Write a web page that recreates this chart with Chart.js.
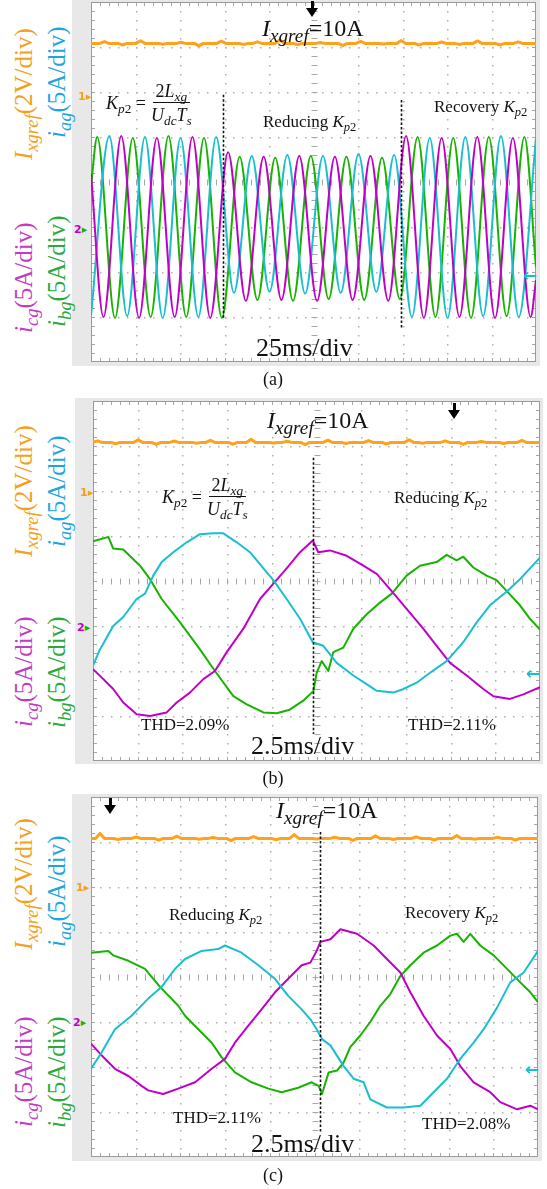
<!DOCTYPE html>
<html>
<head>
<meta charset="utf-8">
<script src="https://cdn.jsdelivr.net/npm/chart.js@4.4.1/dist/chart.umd.min.js"></script>
<style>
html, body { margin: 0; padding: 0; background: #fff; }
#page { position: relative; width: 547px; height: 1189px; overflow: hidden; background: #fff; }
.frame { position: absolute; background: #e8e8e8; }
canvas { position: absolute; }
.t { position: absolute; font-family: "Liberation Serif", "Times New Roman", serif; line-height: 1; white-space: nowrap; color: #111; }
.t i { font-style: italic; }
.t sub { font-size: 0.74em; vertical-align: -0.32em; line-height: 0; }
.ix { font-size: 24px; }
.ix sub { font-size: 0.8em; }
.ms { font-size: 26px; }
.note { font-size: 17px; }
.cap { font-size: 18px; width: 40px; text-align: center; }
.side { font-size: 25px; transform-origin: 0 0; transform: rotate(-90deg); }
.formula { display: flex; align-items: center; font-size: 18px; }
.frac { display: inline-flex; flex-direction: column; align-items: center; margin-left: 5px; }
.frac .num { border-bottom: 1.2px solid #111; padding: 0 3px 2px; }
.frac .den { padding-top: 3px; }
.mk { position: absolute; font-family: "DejaVu Sans", sans-serif; font-size: 11px; line-height: 1; font-weight: bold; }
.arr { font-size: 17px; }
.trig { position: absolute; width: 12px; }
.trig .stem { width: 3px; height: 7px; background: #000; margin: 0 auto; }
.trig .head { width: 0; height: 0; border-left: 6px solid transparent; border-right: 6px solid transparent; border-top: 9px solid #000; }
</style>
</head>
<body>
<div id="page">
  <!-- (a) -->
  <div class="frame" style="left:72px;top:0;width:468px;height:366px"></div>
  <canvas id="scopeA" width="445" height="360" style="left:91px;top:2px"></canvas>
  <div class="trig" style="left:306px;top:1px"><div class="stem"></div><div class="head"></div></div>
  <div class="t ix" style="left:262px;top:16px"><i>I</i><sub><i>xgref</i></sub>=10A</div>
  <div class="t formula" style="left:106px;top:82px"><span><i>K</i><sub><i>p</i>2</sub>&nbsp;=</span><span class="frac"><span class="num">2<i>L</i><sub><i>xg</i></sub></span><span class="den"><i>U</i><sub><i>dc</i></sub><i>T</i><sub><i>s</i></sub></span></span></div>
  <div class="t note" style="left:263px;top:113px">Reducing <i>K</i><sub><i>p</i>2</sub></div>
  <div class="t note" style="left:434px;top:98px">Recovery <i>K</i><sub><i>p</i>2</sub></div>
  <div class="t ms" style="left:256px;top:335px">25ms/div</div>
  <div class="t cap" style="left:253px;top:370px">(a)</div>
  <div class="t side" style="left:11px;top:160px;color:#f5a01a"><i>I</i><sub><i>xgref</i></sub>(2V/div)</div>
  <div class="t side" style="left:44px;top:138px;color:#1ea5de"><i>i</i><sub><i>ag</i></sub>(5A/div)</div>
  <div class="t side" style="left:11px;top:333px;color:#c23cc2"><i>i</i><sub><i>cg</i></sub>(5A/div)</div>
  <div class="t side" style="left:44px;top:327px;color:#2aaa3c"><i>i</i><sub><i>bg</i></sub>(5A/div)</div>
  <div class="mk" style="left:78px;top:91px;color:#f5a01a">1▸</div>
  <div class="mk" style="left:74px;top:224px"><span style="color:#c000c8">2</span><span style="color:#17b300">▸</span></div>
  <div class="mk arr" style="left:523px;top:267px;color:#19bfcf">←</div>

  <!-- (b) -->
  <div class="frame" style="left:75px;top:398px;width:468px;height:366px"></div>
  <canvas id="scopeB" width="447" height="360" style="left:93px;top:401px"></canvas>
  <div class="trig" style="left:448px;top:403px"><div class="stem"></div><div class="head"></div></div>
  <div class="t ix" style="left:267px;top:408px"><i>I</i><sub><i>xgref</i></sub>=10A</div>
  <div class="t formula" style="left:162px;top:476px"><span><i>K</i><sub><i>p</i>2</sub>&nbsp;=</span><span class="frac"><span class="num">2<i>L</i><sub><i>xg</i></sub></span><span class="den"><i>U</i><sub><i>dc</i></sub><i>T</i><sub><i>s</i></sub></span></span></div>
  <div class="t note" style="left:394px;top:489px">Reducing <i>K</i><sub><i>p</i>2</sub></div>
  <div class="t note" style="left:141px;top:716px">THD=2.09%</div>
  <div class="t note" style="left:408px;top:716px">THD=2.11%</div>
  <div class="t ms" style="left:251px;top:733px">2.5ms/div</div>
  <div class="t cap" style="left:253px;top:769px">(b)</div>
  <div class="t side" style="left:11px;top:557px;color:#f5a01a"><i>I</i><sub><i>xgref</i></sub>(2V/div)</div>
  <div class="t side" style="left:44px;top:547px;color:#1ea5de"><i>i</i><sub><i>ag</i></sub>(5A/div)</div>
  <div class="t side" style="left:11px;top:727px;color:#c23cc2"><i>i</i><sub><i>cg</i></sub>(5A/div)</div>
  <div class="t side" style="left:44px;top:728px;color:#2aaa3c"><i>i</i><sub><i>bg</i></sub>(5A/div)</div>
  <div class="mk" style="left:80px;top:487px;color:#f5a01a">1▸</div>
  <div class="mk" style="left:77px;top:622px"><span style="color:#c000c8">2</span><span style="color:#17b300">▸</span></div>
  <div class="mk arr" style="left:526px;top:665px;color:#19bfcf">←</div>

  <!-- (c) -->
  <div class="frame" style="left:72px;top:794px;width:470px;height:367px"></div>
  <canvas id="scopeC" width="447" height="360" style="left:91px;top:797px"></canvas>
  <div class="trig" style="left:104px;top:798px"><div class="stem"></div><div class="head"></div></div>
  <div class="t ix" style="left:276px;top:798px"><i>I</i><sub><i>xgref</i></sub>=10A</div>
  <div class="t note" style="left:169px;top:906px">Reducing <i>K</i><sub><i>p</i>2</sub></div>
  <div class="t note" style="left:405px;top:904px">Recovery <i>K</i><sub><i>p</i>2</sub></div>
  <div class="t note" style="left:173px;top:1109px">THD=2.11%</div>
  <div class="t note" style="left:422px;top:1115px">THD=2.08%</div>
  <div class="t ms" style="left:251px;top:1131px">2.5ms/div</div>
  <div class="t cap" style="left:253px;top:1166px">(c)</div>
  <div class="t side" style="left:11px;top:950px;color:#f5a01a"><i>I</i><sub><i>xgref</i></sub>(2V/div)</div>
  <div class="t side" style="left:44px;top:947px;color:#1ea5de"><i>i</i><sub><i>ag</i></sub>(5A/div)</div>
  <div class="t side" style="left:11px;top:1127px;color:#c23cc2"><i>i</i><sub><i>cg</i></sub>(5A/div)</div>
  <div class="t side" style="left:44px;top:1128px;color:#2aaa3c"><i>i</i><sub><i>bg</i></sub>(5A/div)</div>
  <div class="mk" style="left:76px;top:882px;color:#f5a01a">1▸</div>
  <div class="mk" style="left:73px;top:1017px"><span style="color:#c000c8">2</span><span style="color:#17b300">▸</span></div>
  <div class="mk arr" style="left:525px;top:1061px;color:#19bfcf">←</div>
</div>

<script>
// (a) 25 ms/div, 0..250 ms: peaks and troughs of each phase current [ms, A]
const aGreen = [[0, 4.6], [3.5, 10.0], [13.5, -10.1], [23.5, 9.9], [33.5, -10.0], [43.5, 10.1], [53.5, -10.0], [63.5, 9.9], [73.5, -10.1],
  [83.5, 7.8], [93.5, -8.1], [103.5, 7.7], [113.5, -8.2], [123.5, 7.9], [133.5, -8.0], [143.5, 7.8], [153.5, -8.1], [163.5, 7.7], [173.5, -8.0],
  [183.5, 10.0], [193.5, -10.0], [203.5, 9.9], [213.5, -10.1], [223.5, 10.0], [233.5, -9.9], [243.5, 10.0], [250, -4.5]];
const aCyan = [[0, -9.9], [10.3, 10.1], [20.3, -9.9], [30.3, 10.0], [40.3, -10.1], [50.3, 9.9], [60.3, -10.0], [70.3, 10.0],
  [80.3, -7.3], [90.3, 7.9], [100.3, -7.2], [110.3, 8.0], [120.3, -7.4], [130.3, 7.9], [140.3, -7.3], [150.3, 8.1], [160.3, -7.2], [170.3, 8.0],
  [180.3, -10.0], [190.3, 9.9], [200.3, -10.1], [210.3, 10.0], [220.3, -9.9], [230.3, 10.1], [240.3, -10.0], [250, 9.9]];
const aMagenta = [[0, 5.9], [7, -10.0], [17, 10.1], [27, -10.1], [37, 9.9], [47, -10.0], [57, 10.0], [67, -10.1],
  [77, 8.3], [87, -8.2], [97, 7.8], [107, -8.1], [117, 7.9], [127, -8.2], [137, 7.8], [147, -8.1], [157, 7.9], [167, -8.2],
  [177, 10.1], [187, -10.1], [197, 9.9], [207, -10.0], [217, 10.0], [227, -10.1], [237, 9.9], [247, -10.0], [250, -5.9]];

// (b) 2.5 ms/div, 0..25 ms
const bGreen = [[0, 9.4], [0.86, 9.9], [1.13, 8.6], [1.69, 8.5], [2.63, 6.7], [3.19, 5.2], [3.84, 3.0], [4.87, 0.4], [5.98, -2.6], [6.82, -5.0],
  [7.85, -7.8], [8.6, -8.7], [9.53, -9.6], [10.27, -9.7], [11.0, -9.3], [11.76, -8.3], [12.23, -7.4], [12.32, -7.3], [12.51, -5.2], [12.79, -3.9],
  [13.16, -5.0], [13.44, -2.9], [14.0, -2.4], [14.56, -0.3], [15.31, 1.3], [16.05, 2.6], [16.71, 3.6], [17.54, 5.6], [18.29, 6.7], [19.22, 7.1],
  [19.78, 7.9], [20.34, 7.3], [20.71, 7.7], [21.27, 6.5], [22.01, 5.6], [22.57, 5.1], [23.13, 3.9], [23.88, 2.3], [24.44, 0.8], [25, -0.4]];
const bCyan = [[0, -4.4], [0.39, -2.6], [1.13, 0], [1.69, 1.0], [2.44, 3.0], [2.91, 3.6], [3.37, 5.6], [3.84, 7.1], [4.49, 8.2], [5.24, 9.3],
  [5.98, 10.2], [6.73, 10.3], [7.29, 10.3], [8.04, 9.3], [8.78, 8.2], [9.53, 6.4], [10.09, 5.1], [10.83, 3.0], [11.58, 0.8], [12.29, -1.8],
  [12.88, -2.2], [13.63, -4.1], [14.56, -5.5], [15.49, -6.7], [15.87, -7.2], [16.8, -7.4], [17.36, -7.0], [18.1, -6.3], [18.85, -5.2],
  [19.78, -3.9], [20.71, -1.8], [21.46, 0.4], [22.2, 2.3], [23.13, 3.8], [23.88, 5.2], [24.44, 6.4], [25, 7.6]];
const bMagenta = [[0, -4.8], [0.58, -5.9], [1.13, -7.0], [1.69, -8.5], [2.44, -9.8], [3.19, -10.0], [4.12, -9.6], [4.68, -8.5], [5.42, -7.4],
  [6.17, -5.9], [6.82, -5.0], [7.48, -2.9], [8.41, -0.3], [9.34, 3.0], [10.09, 4.7], [10.83, 6.4], [11.58, 8.2], [12.29, 9.5], [12.6, 8.2],
  [13.25, 8.4], [14.19, 7.8], [15.12, 6.7], [15.87, 5.8], [16.61, 4.1], [17.54, 1.9], [18.47, -0.3], [19.22, -2.2], [19.97, -4.1],
  [20.9, -5.5], [21.83, -7.0], [22.39, -7.8], [23.32, -8.1], [24.07, -7.6], [25, -6.8]];

// (c) 2.5 ms/div, 0..25 ms
const cGreen = [[0, 7.7], [0.97, 7.9], [1.25, 7.4], [2.09, 6.8], [3.02, 5.9], [3.86, 3.9], [4.88, 1.8], [5.26, 0.7], [6.0, -0.8], [6.75, -2.3],
  [7.3, -3.9], [8.05, -5.6], [8.98, -6.7], [9.92, -7.4], [10.66, -7.8], [11.59, -7.3], [12.34, -6.7], [12.73, -7.1], [12.92, -8.0], [13.29, -5.6],
  [13.76, -5.4], [14.13, -4.5], [14.5, -2.8], [15.06, -1.5], [15.62, 0], [16.18, 1.8], [16.74, 3.1], [17.3, 5.1], [17.86, 6.3], [18.6, 7.7],
  [19.35, 8.5], [20.1, 9.6], [20.47, 9.8], [20.84, 8.9], [21.21, 9.8], [21.77, 8.5], [22.52, 7.4], [23.27, 5.9], [24.01, 4.4], [24.57, 3.3], [25, 2.2]];
const cCyan = [[0, -5.2], [0.59, -3.4], [1.34, -0.8], [2.27, 0.7], [3.2, 2.6], [3.95, 3.9], [4.7, 5.9], [5.26, 7.0], [6.19, 7.9], [7.12, 8.1],
  [7.49, 8.5], [8.42, 7.7], [9.36, 6.3], [10.29, 4.8], [11.03, 2.9], [11.78, 1.4], [12.27, 0.3], [12.62, -0.8], [12.92, -1.9], [13.39, -2.6],
  [14.13, -4.9], [14.69, -6.3], [15.25, -6.7], [15.62, -8.6], [16.55, -9.5], [17.48, -9.5], [18.42, -9.3], [19.16, -7.8], [19.91, -6.3],
  [20.65, -4.1], [21.4, -2.3], [21.96, -0.8], [22.71, 1.6], [23.45, 4.4], [24.2, 5.5], [25, 7.9]];
const cMagenta = [[0, -2.4], [0.59, -3.7], [1.34, -5.2], [2.09, -6.0], [2.83, -7.1], [3.2, -7.6], [4.04, -8.0], [4.88, -7.4], [5.82, -6.7],
  [6.75, -5.2], [7.49, -4.1], [8.05, -2.3], [8.8, -0.4], [9.54, 1.4], [10.29, 3.3], [11.03, 4.8], [11.78, 6.3], [12.27, 6.6], [12.62, 7.9],
  [12.83, 8.9], [13.39, 9.2], [13.95, 10.3], [14.88, 9.8], [15.81, 8.5], [16.55, 7.0], [17.3, 5.5], [17.86, 3.3], [18.6, 0.7], [19.35, -1.5],
  [20.1, -3.0], [20.65, -4.9], [21.4, -6.7], [22.33, -7.8], [22.89, -8.9], [23.83, -9.7], [24.57, -9.3], [25, -9.7]];

// Ixgref channel (2 V/div), evenly sampled across the screen
const aOrange = [2.40, 2.40, 2.40, 2.48, 2.40, 2.40, 2.40, 2.33, 2.40, 2.40, 2.40, 2.52, 2.40, 2.40, 2.40, 2.40, 2.36, 2.40, 2.40, 2.40,
  2.45, 2.40, 2.40, 2.40, 2.29, 2.40, 2.40, 2.40, 2.40, 2.50, 2.40, 2.40, 2.40, 2.40, 2.35, 2.40, 2.40, 2.47, 2.40, 2.40,
  2.40, 2.40, 2.56, 2.40, 2.40, 2.40, 2.34, 2.40, 2.40, 2.40, 2.40, 2.44, 2.40, 2.40, 2.40, 2.40, 2.30, 2.40, 2.40, 2.40,
  2.49, 2.40, 2.40, 2.40, 2.40, 2.37, 2.40, 2.40, 2.40, 2.53, 2.40, 2.40, 2.40, 2.32, 2.40, 2.40, 2.40, 2.40, 2.46, 2.40,
  2.40, 2.40, 2.35, 2.40, 2.40, 2.40, 2.51, 2.40, 2.40, 2.40, 2.40, 2.33, 2.40, 2.40, 2.40, 2.47, 2.40, 2.40, 2.40, 2.40];
const bOrange = [2.40, 2.47, 2.40, 2.40, 2.40, 2.34, 2.40, 2.40, 2.40, 2.40, 2.51, 2.40, 2.40, 2.40, 2.31, 2.40, 2.40, 2.40, 2.46, 2.40,
  2.40, 2.40, 2.40, 2.36, 2.40, 2.40, 2.49, 2.40, 2.40, 2.40, 2.40, 2.32, 2.40, 2.40, 2.40, 2.54, 2.40, 2.40, 2.40, 2.40,
  2.37, 2.40, 2.40, 2.45, 2.40, 2.40, 2.40, 2.30, 2.40, 2.40, 2.40, 2.40, 2.50, 2.40, 2.40, 2.40, 2.35, 2.40, 2.40, 2.40,
  2.40, 2.48, 2.40, 2.40, 2.40, 2.33, 2.40, 2.40, 2.40, 2.40, 2.52, 2.40, 2.40, 2.36, 2.40, 2.40, 2.40, 2.40, 2.47, 2.40,
  2.40, 2.40, 2.31, 2.40, 2.40, 2.40, 2.44, 2.40, 2.40, 2.40, 2.40, 2.35, 2.40, 2.40, 2.40, 2.49, 2.40, 2.40, 2.40, 2.40];
const cOrange = [2.40, 2.40, 2.62, 2.40, 2.40, 2.40, 2.35, 2.40, 2.40, 2.40, 2.46, 2.40, 2.40, 2.40, 2.40, 2.32, 2.40, 2.40, 2.40, 2.50,
  2.40, 2.40, 2.40, 2.40, 2.36, 2.40, 2.40, 2.44, 2.40, 2.40, 2.40, 2.30, 2.40, 2.40, 2.40, 2.40, 2.48, 2.40, 2.40, 2.40,
  2.40, 2.34, 2.40, 2.40, 2.40, 2.57, 2.40, 2.40, 2.40, 2.40, 2.37, 2.40, 2.40, 2.40, 2.45, 2.40, 2.40, 2.40, 2.31, 2.40,
  2.40, 2.40, 2.40, 2.51, 2.40, 2.40, 2.40, 2.35, 2.40, 2.40, 2.40, 2.40, 2.47, 2.40, 2.40, 2.40, 2.33, 2.40, 2.40, 2.40,
  2.40, 2.53, 2.40, 2.40, 2.40, 2.36, 2.40, 2.40, 2.40, 2.40, 2.45, 2.40, 2.40, 2.40, 2.32, 2.40, 2.40, 2.40, 2.40, 2.40];

// moments where Kp2 is changed [ms]
const aSwitchTimes = [74.2, 174.0];
const bSwitchTimes = [12.3];
const cSwitchTimes = [12.8];

const ORANGE = '#ffa21a';
const GREEN = '#17b300';
const CYAN = '#19bfcf';
const MAGENTA = '#c000c8';

// oscilloscope screen: dotted divisions, ticked centre axes, dotted trigger lines
const scopeGrid = {
  id: 'scopeGrid',
  beforeDatasetsDraw(chart) {
    const { ctx, chartArea: area, scales: { x, y } } = chart;
    const xAt = f => Math.round(x.getPixelForValue(x.min + (x.max - x.min) * f));
    const yAt = f => Math.round(y.getPixelForValue(y.max - (y.max - y.min) * f));
    ctx.save();
    ctx.fillStyle = '#ffffff';
    ctx.fillRect(area.left, area.top, area.width, area.height);

    ctx.fillStyle = '#b0b0b0';
    for (let i = 1; i < 10; i++) {
      if (i === 5) continue;
      const px = xAt(i / 10);
      for (let k = 1; k < 40; k++) ctx.fillRect(px, yAt(k / 40), 1.5, 1.5);
    }
    for (let j = 1; j < 8; j++) {
      if (j === 4) continue;
      const py = yAt(j / 8);
      for (let k = 1; k < 50; k++) ctx.fillRect(xAt(k / 50), py, 1.5, 1.5);
    }

    ctx.strokeStyle = '#a6a6a6';
    ctx.lineWidth = 1;
    ctx.beginPath();
    const cx = xAt(0.5) + 0.5, cy = yAt(0.5) + 0.5;
    for (let k = 1; k < 50; k++) {
      const px = xAt(k / 50) + 0.5;
      ctx.moveTo(px, cy - 3); ctx.lineTo(px, cy + 3);
      ctx.moveTo(px, area.top); ctx.lineTo(px, area.top + 4);
      ctx.moveTo(px, area.bottom); ctx.lineTo(px, area.bottom - 4);
    }
    for (let k = 1; k < 40; k++) {
      const py = yAt(k / 40) + 0.5;
      ctx.moveTo(cx - 3, py); ctx.lineTo(cx + 3, py);
      ctx.moveTo(area.left, py); ctx.lineTo(area.left + 4, py);
      ctx.moveTo(area.right, py); ctx.lineTo(area.right - 4, py);
    }
    ctx.stroke();
    ctx.strokeStyle = '#9a9a9a';
    ctx.strokeRect(area.left + 0.5, area.top + 0.5, area.width - 1, area.height - 1);
    ctx.restore();
  },
  afterDatasetsDraw(chart, args, opts) {
    const { ctx, scales: { x, y } } = chart;
    ctx.save();
    ctx.strokeStyle = '#111';
    ctx.lineWidth = 1.6;
    ctx.setLineDash([2.5, 2]);
    (opts.lines || []).forEach(l => {
      const px = Math.round(x.getPixelForValue(l.t)) + 0.5;
      ctx.beginPath();
      ctx.moveTo(px, y.getPixelForValue(l.from));
      ctx.lineTo(px, y.getPixelForValue(l.to));
      ctx.stroke();
    });
    ctx.restore();
  }
};

function toPoints(pairs) {
  return pairs.map(p => ({ x: p[0], y: p[1] }));
}

function sampled(values, span) {
  return values.map((v, i) => ({ x: span * i / (values.length - 1), y: v }));
}

function drawScope(id, span, orange, phases, lines, smooth) {
  const datasets = [{
    data: sampled(orange, span), borderColor: ORANGE, borderWidth: 3, yAxisID: 'yv'
  }];
  phases.forEach(ph => datasets.push({
    data: toPoints(ph[0]), borderColor: ph[1], borderWidth: 2, yAxisID: 'y',
    cubicInterpolationMode: smooth ? 'monotone' : 'default', tension: 0
  }));

  new Chart(document.getElementById(id), {
    type: 'line',
    data: { datasets },
    options: {
      responsive: false,
      animation: false,
      devicePixelRatio: 1,
      layout: { padding: 0 },
      elements: { point: { radius: 0 }, line: { borderJoinStyle: 'round', fill: false } },
      scales: {
        x: { type: 'linear', min: 0, max: span, display: false },
        y: { type: 'linear', min: -15, max: 25, display: false },   // 5 A/div, zero on marker 2
        yv: { type: 'linear', min: -11.76, max: 4.24, display: false } // 2 V/div, zero on marker 1
      },
      plugins: {
        legend: { display: false },
        tooltip: { enabled: false },
        scopeGrid: { lines }
      }
    },
    plugins: [scopeGrid]
  });
}

drawScope('scopeA', 250, aOrange,
  [[aMagenta, MAGENTA], [aCyan, CYAN], [aGreen, GREEN]],
  [{ t: aSwitchTimes[0], from: 14.7, to: -10.3 }, { t: aSwitchTimes[1], from: 14.1, to: -11.4 }], true);

drawScope('scopeB', 25, bOrange,
  [[bCyan, CYAN], [bMagenta, MAGENTA], [bGreen, GREEN]],
  [{ t: bSwitchTimes[0], from: 18.7, to: -12.0 }], false);

drawScope('scopeC', 25, cOrange,
  [[cCyan, CYAN], [cMagenta, MAGENTA], [cGreen, GREEN]],
  [{ t: cSwitchTimes[0], from: 21.1, to: -12.2 }], false);
</script>
</body>
</html>
